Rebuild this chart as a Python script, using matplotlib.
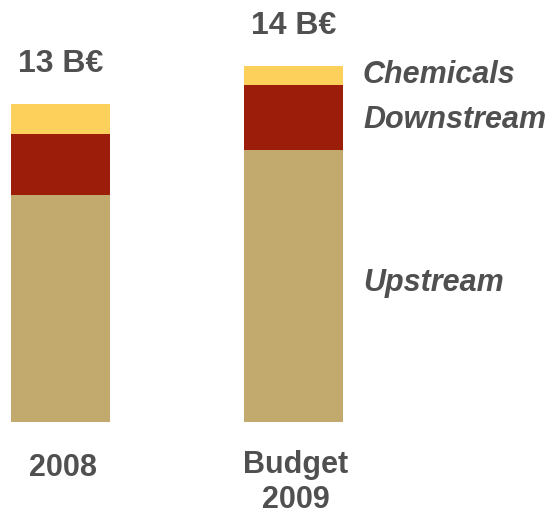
import matplotlib
matplotlib.use('Agg')
import matplotlib.pyplot as plt
import numpy as np

# capex split, B€
years = ['2008', 'Budget\n2009']
segments = ['Upstream', 'Downstream', 'Chemicals']
upstream = [9.08, 10.88]
downstream = [2.44, 2.60]
chemicals = [1.20, 0.76]

colors = ['#C2AA6F', '#9B1D0A', '#FCD05B']
txt = '#505050'

plt.rcParams['font.family'] = ['Liberation Sans', 'DejaVu Sans']

fig = plt.figure(figsize=(5.54, 5.16), dpi=100)
# 25 px per B€, baseline 94 px above the bottom edge
ax = fig.add_axes([0, 94/516, 1, 400/516])
ax.set_ylim(0, 16)
ax.set_xlim(-60.5/233, (554 - 60.5)/233)

x = np.arange(len(years))
w = 99/233
bottom = np.zeros(len(years))
for vals, c in zip([upstream, downstream, chemicals], colors):
    ax.bar(x, vals, width=w, bottom=bottom, color=c, linewidth=0)
    bottom += np.array(vals)

totals = bottom
for xi, t in zip(x, totals):
    ax.text(xi, t + 1.27, '%d B€' % round(t), ha='center', va='baseline',
            fontsize=23, fontweight='bold', color=txt)

# year labels: baseline of the last line sits lower for two-line labels
for xi, lab in zip(x, years):
    n = lab.count('\n')
    ax.text(xi + 0.01, -2.14 - 1.3*n, lab, ha='center', va='baseline',
            fontsize=22, fontweight='bold', color=txt, linespacing=1.2)

# segment names next to the second bar
lx = x[-1] + w/2 + (362 - 342)/233
mids = [upstream[-1]/2 + 0.12,
        upstream[-1] + downstream[-1]/2 - 0.12,
        upstream[-1] + downstream[-1] + chemicals[-1]/2]
for name, m in zip(segments, mids):
    ax.text(lx, m, name, ha='left', va='center', fontsize=22,
            fontweight='bold', fontstyle='italic', color=txt)

ax.axis('off')
fig.savefig('out.png', dpi=100)
